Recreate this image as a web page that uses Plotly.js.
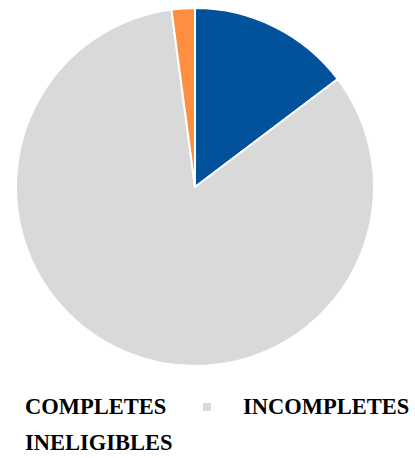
<!DOCTYPE html>
<html><head><meta charset="utf-8">
<script src="https://cdn.plot.ly/plotly-3.0.1.min.js"></script>
<style>html,body{margin:0;padding:0;background:#fff}</style>
</head><body>
<div id="chart" style="width:415px;height:458px"></div>
<script>
const labels = ["COMPLETES", "INCOMPLETES", "INELIGIBLES"];
const values = [14.7, 83.2, 2.1];
const colors = ["#02519B", "#D9D9D9", "#FF8F40"];

const W = 415, H = 458, L = 16, R = 41, T = 8, B = 92;
const pw = W - L - R, ph = H - T - B;
const px = x => (x - L) / pw;
const py = y => (H - B - y) / ph;

const legendPos = [[23, 407], [241, 407], [23, 442]];
const annotations = labels.map((lab, i) => ({
  xref: "paper", yref: "paper", x: px(legendPos[i][0]), y: py(legendPos[i][1]),
  xanchor: "left", yanchor: "middle", showarrow: false,
  text: "<b>" + lab + "</b>",
  font: {family: "Liberation Serif", size: 22.5, color: "#000"}
}));

const data = [{
  type: "pie", labels: labels, values: values, sort: false, direction: "clockwise",
  rotation: 0, textinfo: "none", hoverinfo: "label+value",
  marker: {colors: colors, line: {color: "#fff", width: 2}}
}];
const layout = {
  width: W, height: H, margin: {l: L, r: R, t: T, b: B},
  showlegend: false, paper_bgcolor: "#fff",
  annotations: annotations,
  shapes: [{type: "rect", xref: "paper", yref: "paper",
    x0: px(203), x1: px(211), y0: py(411), y1: py(403),
    fillcolor: colors[1], line: {width: 0}}]
};
Plotly.newPlot("chart", data, layout, {displayModeBar: false});
</script>
</body></html>
